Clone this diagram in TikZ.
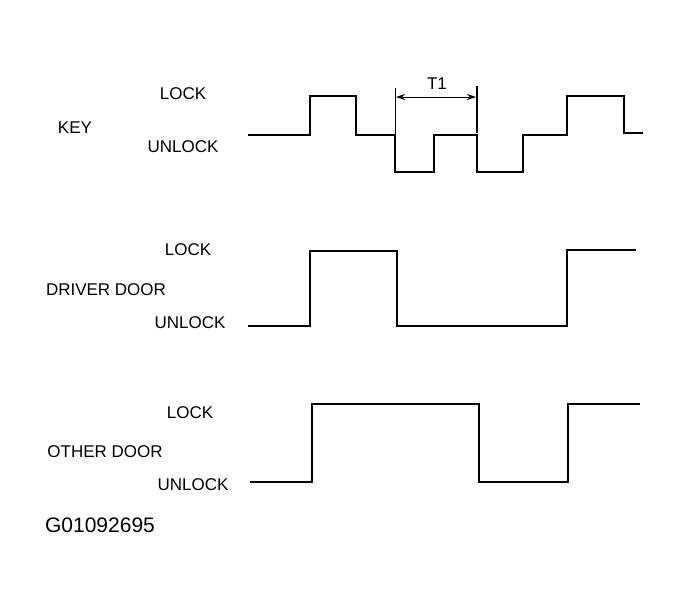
\documentclass[tikz,border=0pt]{standalone}
\usepackage{fontspec}
\setmainfont{Liberation Sans}
\usetikzlibrary{arrows.meta}
\begin{document}
\begin{tikzpicture}[x=1pt,y=-1pt,
    wave/.style={line width=1.6pt, line join=miter},
    lbl/.style={font=\fontsize{17}{19}\selectfont, inner sep=0pt}]
    \useasboundingbox (0,0) rectangle (681,611);

    % Labels
    \node[lbl] (keylock) at (183,94) {LOCK};
    \node[lbl] (key) at (75,128) {KEY};
    \node[lbl] (keyunlock) at (183,147) {UNLOCK};
    \node[lbl] (drvlock) at (188,250) {LOCK};
    \node[lbl] (drv) at (106,290) {DRIVER DOOR};
    \node[lbl] (drvunlock) at (190,323) {UNLOCK};
    \node[lbl] (othlock) at (190,413) {LOCK};
    \node[lbl] (oth) at (105,452) {OTHER DOOR};
    \node[lbl] (othunlock) at (193,485) {UNLOCK};
    \node[font=\fontsize{21}{24}\selectfont, inner sep=0pt] (code) at (100,525) {G01092695};

    % Key signal
    \draw[wave] (248,135) -- (310,135) -- (310,96) -- (356,96) -- (356,135)
      -- (395,135) -- (395,172) -- (434,172) -- (434,135) -- (477,135)
      -- (477,172) -- (523,172) -- (523,135) -- (567,135) -- (567,96)
      -- (624,96) -- (624,133) -- (643,133);

    % T1 interval
    \coordinate (t1a) at (395,88);
    \coordinate (t1b) at (477,86);
    \draw[line width=0.6pt] (t1a) -- (395,135);
    \draw[line width=1.6pt] (t1b) -- (477,133);
    \draw[{Stealth[length=9pt,width=6pt]}-{Stealth[length=9pt,width=6pt]}, line width=1pt]
      (396,97) -- (476,97);
    \node[lbl] (t1) at (437,84) {T1};

    % Driver door
    \draw[wave] (248,326) -- (310,326) -- (310,251) -- (397,251) -- (397,326)
      -- (567,326) -- (567,250) -- (636,250);

    % Other door
    \draw[wave] (250,482) -- (312,482) -- (312,404) -- (479,404) -- (479,482)
      -- (568,482) -- (568,404) -- (640,404);
\end{tikzpicture}
\end{document}
